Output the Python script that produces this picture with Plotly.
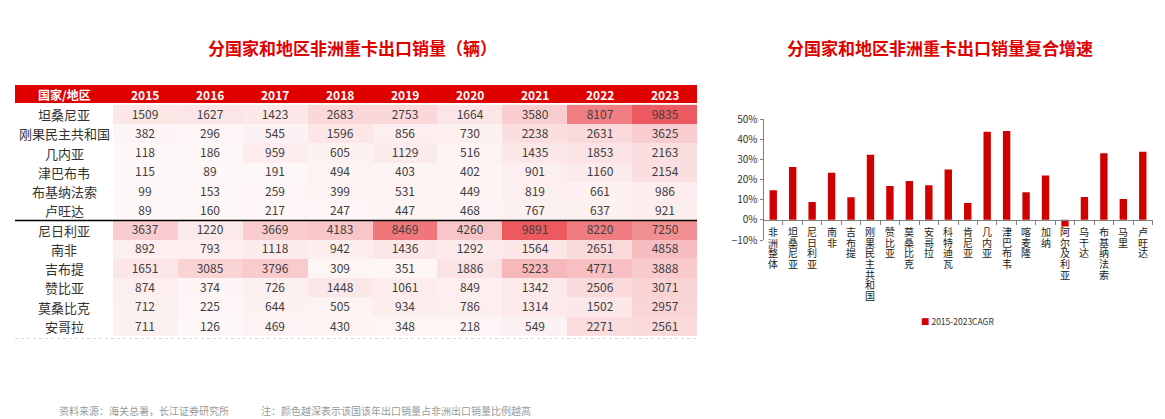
import plotly.graph_objects as go

W, H = 1165, 419

years = ["2015", "2016", "2017", "2018", "2019", "2020", "2021", "2022", "2023"]
countries = ["坦桑尼亚", "刚果民主共和国", "几内亚", "津巴布韦", "布基纳法索", "卢旺达",
             "尼日利亚", "南非", "吉布提", "赞比亚", "莫桑比克", "安哥拉"]
sales = [
    [1509, 1627, 1423, 2683, 2753, 1664, 3580, 8107, 9835],
    [382, 296, 545, 1596, 856, 730, 2238, 2631, 3625],
    [118, 186, 959, 605, 1129, 516, 1435, 1853, 2163],
    [115, 89, 191, 494, 403, 402, 901, 1160, 2154],
    [99, 153, 259, 399, 531, 449, 819, 661, 986],
    [89, 160, 217, 247, 447, 468, 767, 637, 921],
    [3637, 1220, 3669, 4183, 8469, 4260, 9891, 8220, 7250],
    [892, 793, 1118, 942, 1436, 1292, 1564, 2651, 4858],
    [1651, 3085, 3796, 309, 351, 1886, 5223, 4771, 3888],
    [874, 374, 726, 1448, 1061, 849, 1342, 2506, 3071],
    [712, 225, 644, 505, 934, 786, 1314, 1502, 2957],
    [711, 126, 469, 430, 348, 218, 549, 2271, 2561],
]

cagr_labels = ["非洲整体", "坦桑尼亚", "尼日利亚", "南非", "吉布提", "刚果民主共和国", "赞比亚",
               "莫桑比克", "安哥拉", "科特迪瓦", "肯尼亚", "几内亚", "津巴布韦", "喀麦隆", "加纳",
               "阿尔及利亚", "乌干达", "布基纳法索", "马里", "卢旺达"]
cagr_values = [14.7, 26.2, 8.8, 23.3, 11.2, 32.3, 16.8, 19.2, 17.2, 25.0, 8.4, 43.7, 44.0,
               13.7, 22.0, -3.3, 11.3, 33.0, 10.3, 33.7]

FONT = "Noto Sans CJK SC"
RED = "#E00000"
BAR_RED = "#D00000"

def px(x):
    return x / W

def py(y):
    return 1 - y / H

fig = go.Figure()

# ---------- table (heatmap) ----------
fig.add_trace(go.Heatmap(
    z=sales, x=years, y=countries,
    xaxis="x2", yaxis="y2",
    zmin=0, zmax=10000,
    colorscale=[[0, "rgb(254,249,249)"], [0.5, "rgb(247,188,191)"], [1, "rgb(236,88,94)"]],
    showscale=False,
    texttemplate="%{z:.0f}",
    textfont=dict(family=FONT, size=12, color="#404040"),
    hoverinfo="skip",
))

T_LEFT, T_RIGHT, T_HEAD_TOP, T_HEAD_BOT, T_BOT = 15, 697, 85, 103, 338
COL0_RIGHT = 113

shapes = []
annotations = []

# header
shapes.append(dict(type="rect", xref="paper", yref="paper",
                   x0=px(T_LEFT), x1=px(T_RIGHT), y0=py(T_HEAD_BOT), y1=py(T_HEAD_TOP),
                   fillcolor=RED, line=dict(width=0), layer="below"))
annotations.append(dict(text="<b>国家/地区</b>", xref="paper", yref="paper",
                        x=px((T_LEFT + COL0_RIGHT) / 2), y=py((T_HEAD_TOP + T_HEAD_BOT) / 2),
                        showarrow=False, font=dict(family=FONT, size=12, color="white"),
                        xanchor="center", yanchor="middle"))
for i, yr in enumerate(years):
    annotations.append(dict(text=f"<b>{yr}</b>", xref="x2", yref="paper",
                            x=i, y=py((T_HEAD_TOP + T_HEAD_BOT) / 2),
                            showarrow=False, font=dict(family=FONT, size=12, color="white"),
                            xanchor="center", yanchor="middle"))
for k, c in enumerate(countries):
    annotations.append(dict(text=c, xref="paper", yref="y2",
                            x=px((T_LEFT + COL0_RIGHT) / 2), y=k,
                            showarrow=False, font=dict(family=FONT, size=13, color="#333333"),
                            xanchor="center", yanchor="middle"))

# separator line between groups
row_h = (T_BOT - T_HEAD_BOT) / len(countries)
sep_y = T_HEAD_BOT + row_h * 6
shapes.append(dict(type="line", xref="paper", yref="paper",
                   x0=px(T_LEFT), x1=px(T_RIGHT), y0=py(sep_y), y1=py(sep_y),
                   line=dict(color="black", width=1.5)))
shapes.append(dict(type="line", xref="paper", yref="paper",
                   x0=px(T_LEFT), x1=px(T_RIGHT), y0=py(T_BOT + 0.5), y1=py(T_BOT + 0.5),
                   line=dict(color="#d8d8d8", width=1, dash="dot")))

# ---------- bar chart ----------
fig.add_trace(go.Bar(
    x=cagr_labels, y=cagr_values, marker=dict(color=BAR_RED, line=dict(width=0)),
    width=0.38, xaxis="x", yaxis="y", showlegend=False, hoverinfo="skip",
))

Y_TOP, Y_BOT = 119, 240
ymin, ymax = -10, 50
ydom = [py(Y_BOT), py(Y_TOP)]
zero_pos = ydom[0] + (0 - ymin) / (ymax - ymin) * (ydom[1] - ydom[0])

# vertical category labels, one character per line
pitch = 10.7
for i, lab in enumerate(cagr_labels):
    for j, ch in enumerate(lab):
        annotations.append(dict(text=ch, xref="x", yref="y", x=i, y=0,
                                showarrow=False, yshift=-(11.5 + j * pitch),
                                xanchor="center", yanchor="middle",
                                font=dict(family=FONT, size=10, color="#222222")))

# legend
annotations.append(dict(text="<span style='color:#D00000'>■</span> 2015-2023CAGR",
                        xref="paper", yref="paper", x=px(957), y=py(321),
                        showarrow=False, xanchor="center", yanchor="middle",
                        font=dict(family=FONT, size=8.5, color="#333333")))

# titles
annotations.append(dict(text="<b>分国家和地区非洲重卡出口销量（辆）</b>", xref="paper", yref="paper",
                        x=px(352), y=py(47), showarrow=False, xanchor="center", yanchor="middle",
                        font=dict(family=FONT, size=17, color=RED)))
annotations.append(dict(text="<b>分国家和地区非洲重卡出口销量复合增速</b>", xref="paper", yref="paper",
                        x=px(940), y=py(47), showarrow=False, xanchor="center", yanchor="middle",
                        font=dict(family=FONT, size=17, color=RED)))

# footer
annotations.append(dict(text="资料来源：海关总署，长江证券研究所", xref="paper", yref="paper",
                        x=px(57), y=py(410), showarrow=False, xanchor="left", yanchor="middle",
                        font=dict(family=FONT, size=10, color="#9a9a9a")))
annotations.append(dict(text="注：颜色越深表示该国该年出口销量占非洲出口销量比例越高", xref="paper", yref="paper",
                        x=px(259), y=py(410), showarrow=False, xanchor="left", yanchor="middle",
                        font=dict(family=FONT, size=10, color="#9a9a9a")))

fig.update_layout(
    width=W, height=H,
    margin=dict(l=0, r=0, t=0, b=0, autoexpand=False),
    paper_bgcolor="white", plot_bgcolor="rgba(0,0,0,0)",
    font=dict(family=FONT),
    shapes=shapes, annotations=annotations,
    xaxis2=dict(domain=[px(COL0_RIGHT), px(T_RIGHT)], anchor="y2", type="category",
                showticklabels=False, showgrid=False, zeroline=False, showline=False, ticks=""),
    yaxis2=dict(domain=[py(T_BOT), py(T_HEAD_BOT)], anchor="x2", type="category",
                autorange="reversed",
                showticklabels=False, showgrid=False, zeroline=False, showline=False, ticks=""),
    xaxis=dict(domain=[px(763.5), px(1152.5)], anchor="free", position=zero_pos, type="category",
               showticklabels=False, showgrid=False, zeroline=False,
               showline=True, linecolor="#7f7f7f", linewidth=1,
               ticks="outside", tickson="boundaries", ticklen=4, tickcolor="#7f7f7f"),
    yaxis=dict(domain=ydom, range=[ymin, ymax], anchor="x", dtick=10, ticksuffix="%",
               showgrid=False, zeroline=False, showline=True, linecolor="#7f7f7f", linewidth=1,
               ticks="outside", ticklen=3, tickcolor="#7f7f7f",
               tickfont=dict(family=FONT, size=10, color="#333333")),
    bargap=0.6,
)

fig.write_html("out.html", config={"displayModeBar": False, "staticPlot": True},
               post_script="document.body.style.margin='0';document.body.style.padding='0';"
                           "document.body.style.overflow='hidden';")
